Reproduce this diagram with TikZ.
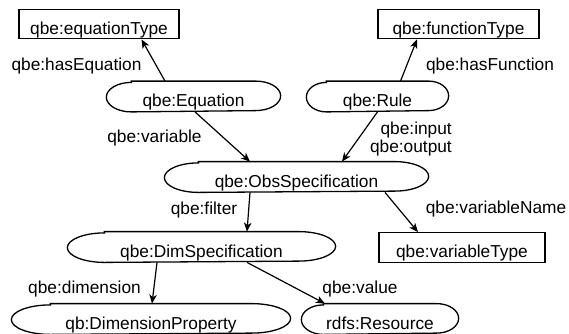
\documentclass[tikz,border=0pt]{standalone}
\usepackage{fontspec}
\setmainfont{Liberation Sans}
\usetikzlibrary{arrows.meta, positioning}

\tikzset{
  term/.style={line width=1.3pt, minimum height=29.5pt, inner ysep=0pt,
    text height=25pt, text depth=4.5pt},
  % oval with flat top and bottom, #1 = horizontal radius of the ends
  cls/.style={term, append after command={\pgfextra{
    \draw[line width=1.3pt] ([xshift=#1]\tikzlastnode.north west)
      -- ([xshift=-#1]\tikzlastnode.north east)
      arc[start angle=90, end angle=-90, x radius=#1, y radius=14.75pt]
      -- ([xshift=#1]\tikzlastnode.south west)
      arc[start angle=-90, end angle=-270, x radius=#1, y radius=14.75pt]
      -- cycle;}}},
  lit/.style={term, draw},
  lbl/.style={anchor=base, inner sep=0pt},
  rel/.style={-{Stealth[length=9pt, width=7.5pt, inset=2.5pt]}, line width=1.2pt},
}

\begin{document}
\begin{tikzpicture}[x=1pt, y=-1pt, on grid, font=\fontsize{17.3}{17.7}\selectfont]
    \useasboundingbox (0,0) rectangle (569,333);
    % classes and literal types
    \node[cls=34pt, minimum width=263pt] (obs) at (296.5,177) {qbe:ObsSpecification};
    \node[cls=25pt, minimum width=173pt, above left=80.5pt and 103pt of obs] (eq) {qbe:Equation};
    \node[cls=20pt, minimum width=141pt, above right=80.5pt and 81pt of obs] (rule) {qbe:Rule};
    \node[lit, minimum width=160pt, above left=72.5pt and 94.5pt of eq] (eqtype) {qbe:equationType};
    \node[lit, minimum width=161pt, above right=72.5pt and 81pt of rule] (funtype) {qbe:functionType};
    \node[cls=37pt, minimum width=267pt, below left=70pt and 95pt of obs] (dim) {qbe:DimSpecification};
    \node[lit, minimum width=166pt, below right=70.5pt and 165.5pt of obs] (vartype) {qbe:variableType};
    \node[cls=39pt, minimum width=278pt, below left=72pt and 50.5pt of dim] (dimprop) {qb:DimensionProperty};
    \node[cls=22pt, minimum width=156pt, below right=72pt and 178.5pt of dim] (res) {rdfs:Resource};
    % properties
    \draw[rel] ([xshift=-28.5pt]eq.north) -- ([xshift=42.5pt]eqtype.south);
    \draw[rel] ([xshift=23pt]rule.north) -- ([xshift=-41.5pt]funtype.south);
    \draw[rel] ([xshift=1.5pt]eq.south) -- ([xshift=-46.5pt]obs.north);
    \draw[rel] (rule.south) -- ([xshift=45.5pt]obs.north);
    \draw[rel] ([xshift=-46.5pt]obs.south) -- ([xshift=45.5pt]dim.north);
    \draw[rel] ([xshift=88.5pt]obs.south) -- ([xshift=-44pt]vartype.north);
    \draw[rel] ([xshift=-44.5pt]dim.south) -- ([xshift=1pt]dimprop.north);
    \draw[rel] ([xshift=45.5pt]dim.south) -- ([xshift=-55pt]res.north);
    % property names
    \node[lbl] (l-haseq) at (76.5,70) {qbe:hasEquation};
    \node[lbl] (l-var) at (154.5,142) {qbe:variable};
    \node[lbl] (l-hasfun) at (490,70) {qbe:hasFunction};
    \node[lbl, anchor=base east, align=right] (l-io) at (452,152) {qbe:input\\qbe:output};
    \node[lbl] (l-filter) at (204,214) {qbe:filter};
    \node[lbl] (l-varname) at (496,213) {qbe:variableName};
    \node[lbl] (l-dim) at (84.5,293) {qbe:dimension};
    \node[lbl] (l-val) at (360,293) {qbe:value};
\end{tikzpicture}
\end{document}
